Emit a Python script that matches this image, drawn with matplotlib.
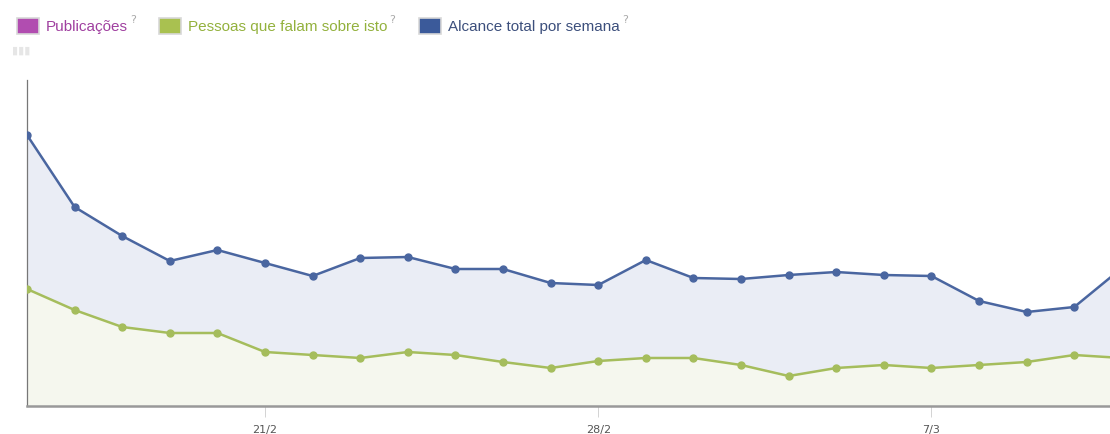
import numpy as np
from matplotlib import pyplot as plt
from matplotlib.patches import Rectangle

# weekly values, one point per day starting 16/2
days = np.arange(24)
alcance = [2710, 1990, 1700, 1450, 1560, 1430, 1300, 1480, 1490, 1370,
           1370, 1230, 1210, 1460, 1280, 1270, 1310, 1340, 1310, 1300,
           1050, 940, 990, 1380]
pessoas = [1170, 960, 790, 730, 730, 540, 510, 480, 540, 510,
           440, 380, 450, 480, 480, 410, 300, 380, 410, 380,
           410, 440, 510, 480]
tick_pos = [5, 12, 19]
tick_labels = ['21/2', '28/2', '7/3']

legend_items = ['Publicações', 'Pessoas que falam sobre isto', 'Alcance total por semana']
legend_fill = ['#b14db0', '#a9c150', '#3b5a9a']
legend_text = ['#a040a0', '#93b13d', '#3c4f7c']

blue = '#4a66a0'
green = '#a5bd5c'

fig = plt.figure(figsize=(11.1, 4.34), dpi=100)
ax = fig.add_axes([27/1110, 28/434, 1 - 27/1110, 326/434])

ax.fill_between(days, alcance, 0, color='#eaedf5', zorder=1)
ax.fill_between(days, pessoas, 0, color='#f5f7ee', zorder=2)
ax.plot(days, alcance, color=blue, lw=1.8, marker='o', ms=5, zorder=4)
ax.plot(days, pessoas, color=green, lw=1.8, marker='o', ms=5, zorder=3)

ax.set_xlim(0, 22.75)
ax.set_ylim(0, 3260)
ax.set_yticks([])
ax.set_xticks(tick_pos)
ax.set_xticklabels(tick_labels, fontsize=8, color='#555555')
ax.tick_params(axis='x', length=8, width=0.6, color='#cccccc', pad=6)
for s in ['top', 'right']:
    ax.spines[s].set_visible(False)
ax.spines['left'].set_color('#777777')
ax.spines['left'].set_linewidth(0.9)
ax.spines['bottom'].set_color('#999999')
ax.spines['bottom'].set_linewidth(1.8)

# legend across the top
xs = [17, 159, 419]
for i in range(3):
    x0 = xs[i]
    fig.patches.append(Rectangle((x0/1110, 1 - 34/434), 22/1110, 16/434,
                                 transform=fig.transFigure,
                                 facecolor=legend_fill[i], edgecolor='#d8d8d8', lw=1.2))
    t = fig.text((x0 + 29)/1110, 1 - 31/434, legend_items[i], fontsize=11,
                 color=legend_text[i], family='Liberation Sans')
    fig.canvas.draw()
    bb = t.get_window_extent()
    fig.text((bb.x1 + 2)/1110, 1 - 23/434, '?', fontsize=8, color='#aaaaaa')

fig.text(12/1110, 1 - 54/434, '▮▮▮', fontsize=8, color='#e6e6e6')

plt.savefig('out.png', dpi=100)
